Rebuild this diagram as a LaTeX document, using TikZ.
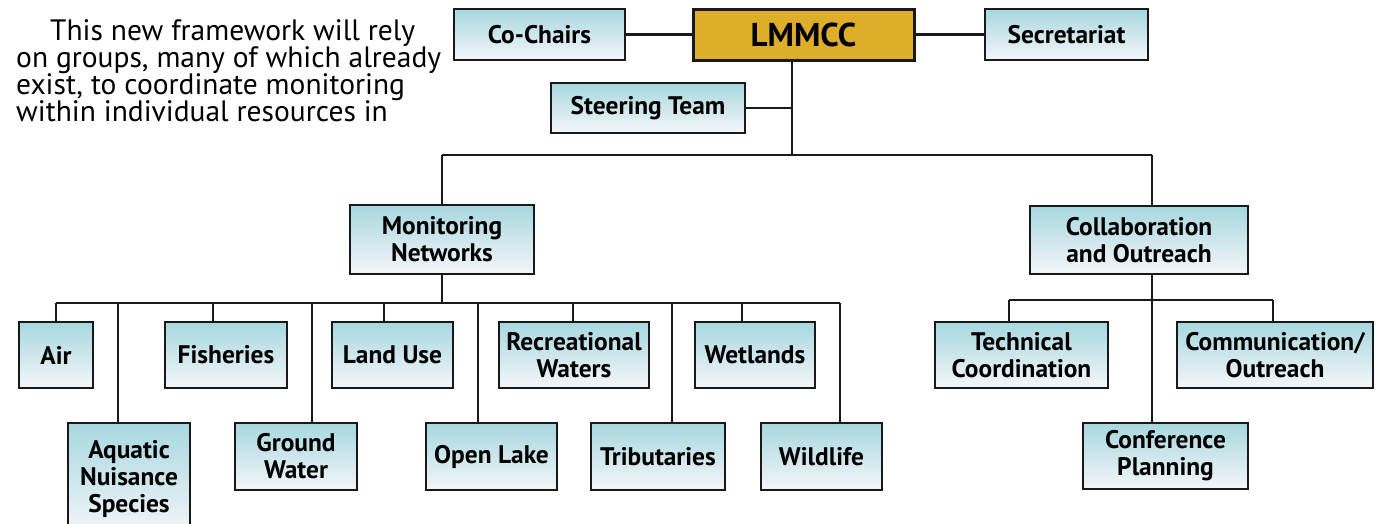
\documentclass[tikz,border=0pt]{standalone}
\usepackage{fontspec}
\setmainfont{PT Sans}
\begin{document}
\begin{tikzpicture}[x=1pt,y=-1pt,
  box/.style={draw=black!90, line width=2.4pt, top color=topc, bottom color=botc,
    inner sep=0pt, align=center, font=\bfseries\fontsize{25.4}{27}\selectfont},
  gold/.style={draw=black!90, line width=3pt, fill=goldc, inner sep=0pt,
    font=\bfseries\fontsize{33}{36}\selectfont},
  wire/.style={line width=2.2pt, draw=black!90},
  para/.style={anchor=base west, inner sep=0pt, text height=18pt, text depth=5pt,
    font=\fontsize{29.5}{27}\selectfont}]
\definecolor{topc}{HTML}{A7D7DF}
\definecolor{botc}{HTML}{F4F6F9}
\definecolor{goldc}{HTML}{DEAD29}
\useasboundingbox (0,0) rectangle (1376,523);
\clip (0,0) rectangle (1376,523);
% paragraph
\node[para] (p1) at (50,40) {This new framework will rely};
\node[para] (p2) at (16,67) {on groups, many of which already};
\node[para] (p3) at (16,94) {exist, to coordinate monitoring};
\node[para] (p4) at (16,121) {within individual resources in};
% top level
\node[gold, minimum width=221pt, minimum height=51pt] (lm) at (803.5,34.5) {LMMCC};
\node[box, minimum width=171pt, minimum height=51pt] (cc) at (539.5,34.5) {Co-Chairs};
\node[box, minimum width=163pt, minimum height=51pt] (sec) at (1066.5,34.5) {Secretariat};
\node[box, minimum width=194pt, minimum height=50pt] (st) at (648,108) {Steering Team};
\node[box, minimum width=184pt, minimum height=69pt] (mn) at (442,239.5) {Monitoring\\Networks};
\node[box, minimum width=218pt, minimum height=68pt] (co) at (1139,240) {Collaboration\\and Outreach};
% row 1
\node[box, minimum width=74pt, minimum height=66pt] (air) at (56,355) {Air};
\node[box, minimum width=122pt, minimum height=66pt] (fis) at (226,355) {Fisheries};
\node[box, minimum width=121pt, minimum height=66pt] (lu) at (392.5,355) {Land Use};
\node[box, minimum width=150pt, minimum height=66pt] (rw) at (574,355) {Recreational\\Waters};
\node[box, minimum width=120pt, minimum height=66pt] (wet) at (755,355) {Wetlands};
\node[box, minimum width=173pt, minimum height=66pt] (tc) at (1021.5,355) {Technical\\Coordination};
\node[box, minimum width=196pt, minimum height=66pt] (com) at (1275,355) {Communication/\\Outreach};
% row 2
\node[box, minimum width=122pt, minimum height=112pt] (ans) at (129,479) {Aquatic\\Nuisance\\Species};
\node[box, minimum width=122pt, minimum height=67pt] (gw) at (296,456.5) {Ground\\Water};
\node[box, minimum width=131pt, minimum height=67pt] (ol) at (491.5,456.5) {Open Lake};
\node[box, minimum width=134pt, minimum height=67pt] (tri) at (658,456.5) {Tributaries};
\node[box, minimum width=121pt, minimum height=67pt] (wil) at (821.5,456.5) {Wildlife};
\node[box, minimum width=165pt, minimum height=66pt] (cp) at (1165.5,456) {Conference\\Planning};
% coordinates
\coordinate (trunkTop) at (792,60);
\coordinate (trunkBot) at (792,155);
\coordinate (mnTop) at (442,155);
\coordinate (coTop) at (1152,155);
\coordinate (busL) at (56,303);
\coordinate (busR) at (840,303);
\coordinate (cbusL) at (1009,300);
\coordinate (cbusR) at (1273,300);
\coordinate (cbusM) at (1152,300);
% wires
\draw[wire] (cc.east) -- (lm.west);
\draw[wire] (lm.east) -- (sec.west);
\draw[wire] (trunkTop) -- (trunkBot);
\draw[wire] (st.east) -- (st.east -| trunkTop);
\draw[wire] (mnTop) -- (coTop);
\draw[wire] (mnTop) -- (mnTop |- mn.north);
\draw[wire] (coTop) -- (coTop |- co.north);
\draw[wire] (mn.south) -- (mn.south |- busL);
\draw[wire] (busL) -- (busR);
\foreach \n/\x in {air/56, ans/118, fis/213, gw/312, lu/384, ol/478, rw/573, tri/672, wet/742, wil/840}
  \draw[wire] (\x,303) -- (\x,303 |- \n.north);
\draw[wire] (co.south -| cbusM) -- (cbusM);
\draw[wire] (cbusL) -- (cbusR);
\draw[wire] (cbusL) -- (cbusL |- tc.north);
\draw[wire] (cbusR) -- (cbusR |- com.north);
\draw[wire] (cbusM) -- (cbusM |- cp.north);
\end{tikzpicture}
\end{document}
